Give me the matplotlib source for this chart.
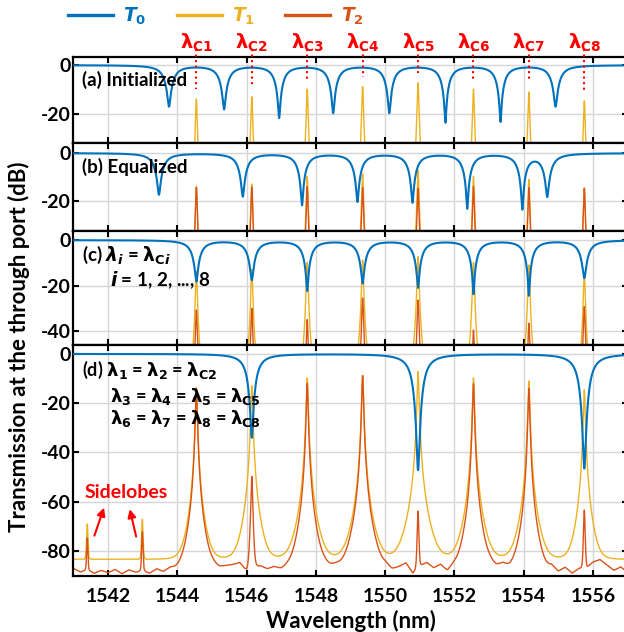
import numpy as np
import matplotlib
matplotlib.use('Agg')
import matplotlib.pyplot as plt
from matplotlib.lines import Line2D

plt.rcParams['font.family'] = ['Lato', 'DejaVu Sans']
plt.rcParams['font.weight'] = 'bold'
plt.rcParams['axes.labelweight'] = 'bold'
plt.rcParams['axes.unicode_minus'] = False
plt.rcParams['mathtext.fontset'] = 'dejavusans'

C0, C1, C2 = '#0072BD', '#EDB120', '#D95319'

# channel wavelengths (nm)
lam_c = [1544.55, 1546.15, 1547.75, 1549.35, 1550.95, 1552.55, 1554.15, 1555.75]

# T1 drop peaks (dB), same in all panels
t1_peak = [-13.9, -12.9, -9.8, -8.8, -7.2, -9.8, -11.0, -14.6]

# (a) initialized ring resonances
a_dip_wl = [1543.76, 1545.35, 1546.94, 1548.50, 1550.12, 1551.74, 1553.33, 1554.92]
a_dip_db = [-16.3, -17.3, -20.8, -18.8, -18.8, -22.7, -22.4, -16.3]

# (b) equalized
b_dip_wl = [1543.47, 1545.89, 1547.60, 1549.20, 1550.79, 1552.37, 1553.96, 1554.68]
b_dip_db = [-16.8, -17.5, -21.0, -19.6, -19.9, -22.4, -22.4, -17.2]
b_t2_peak = [-14.3, -14.3, -14.0, -14.4, -14.7, -14.0, -14.4, -14.7]

# (c) lambda_i = lambda_Ci
c_dip_db = [-17.6, -16.9, -21.6, -18.3, -20.2, -23.0, -23.7, -16.1]
c_t2_peak = [-30.8, -30.0, -35.0, -25.5, -26.4, -39.6, -36.6, -29.3]

# (d) grouped rings
d_dip_wl = [1546.15, 1550.95, 1555.75]
d_dip_db = [-33.2, -45.9, -45.3]
d_dip_rings = [2, 3, 3]
d_t2_peak = [-13.9, -49.7, -11.9, -8.8, -63.8, -12.1, -13.9, -63.4]
side_wl = [1541.40, 1542.99]
side_t1 = [-69.2, -67.2]
side_t2 = [-74.9, -72.3]
t1_floor = -83.3
floor_wl = np.round(np.arange(1541.0, 1557.01, 0.2), 2)
t2_floor = [-87.0, -88.5, -87.5, -89.0, -87.8, -88.8, -87.4, -89.2, -87.6, -88.6,
            -87.8, -89.0, -87.2, -88.4, -86.8, -87.5, -87.0, -87.0, -87.0, -87.0,
            -86.0, -86.8, -86.0, -85.5, -84.6, -88.0, -86.6, -86.0, -87.2, -86.4,
            -87.6, -86.8, -87.5, -87.0, -87.0, -86.5, -85.6, -86.4, -85.8, -86.6,
            -87.0, -87.0, -87.0, -86.2, -87.4, -86.0, -87.8, -86.4, -84.8, -89.0,
            -86.0, -84.6, -86.8, -85.4, -88.6, -86.2, -87.4, -87.0, -87.0, -86.0,
            -85.2, -86.4, -85.0, -86.8, -86.0, -87.0, -87.0, -86.4, -87.6, -86.0,
            -88.4, -86.6, -89.0, -87.0, -87.0, -84.4, -83.4, -85.6, -87.8, -86.4,
            -88.6]

wl = np.linspace(1541, 1557, 32001)


def ring_dip(center, depth, width=0.45, shoulder=0.5, broad=0.9):
    A = 1 - 10 ** (depth / 10)
    lin = 1 - A / (1 + (2 * (wl - center) / width) ** 2)
    return 10 * np.log10(lin) - shoulder / (1 + (2 * (wl - center) / broad) ** 2)


def through(centers, depths, **kw):
    out = np.zeros_like(wl)
    for c, d in zip(centers, depths):
        out += ring_dip(c, d, **kw)
    return out


def drop(centers, peaks, floor, width=0.047, order=2.6):
    p = 10 ** (floor / 10) * np.ones_like(wl)
    for c, pk in zip(centers, peaks):
        p += 10 ** ((pk - 10 * order * np.log10(1 + (2 * (wl - c) / width) ** 2)) / 10)
    return 10 * np.log10(p)


fig = plt.figure(figsize=(6.24, 6.32), dpi=100)
W, H = 624.0, 632.0
xl, xr = 73.4, 627.6
panels = [(57, 143, (-31.8, 3.3)), (143, 231, (-32.5, 4.2)),
          (231, 345, (-46.2, 4.0)), (345, 576, (-90.1, 3.6))]
axes = []
for top, bot, ylim in panels:
    ax = fig.add_axes([xl / W, 1 - bot / H, (xr - xl) / W, (bot - top) / H])
    ax.set_xlim(1541, 1557)
    ax.set_ylim(*ylim)
    ax.set_xticks(np.arange(1542, 1557, 2))
    ax.grid(True, color='#d6d6d6', lw=1.0)
    ax.set_axisbelow(True)
    ax.tick_params(direction='in', top=True, right=True, length=4, width=1.5,
                   labelsize=14, pad=2)
    ax.tick_params(axis='x', pad=9)
    for s in ax.spines.values():
        s.set_linewidth(1.6)
    axes.append(ax)
for ax in axes[:3]:
    ax.tick_params(labelbottom=False)
axes[0].set_yticks([0, -20])
axes[1].set_yticks([0, -20])
axes[2].set_yticks([0, -20, -40])
axes[3].set_yticks([0, -20, -40, -60, -80])

# (a)
ax = axes[0]
ax.plot(wl, drop(lam_c, t1_peak, t1_floor), color=C1, lw=1.0, zorder=2)
ax.plot(wl, through(a_dip_wl, a_dip_db), color=C0, lw=1.5, zorder=3)
for i, (c, pk) in enumerate(zip(lam_c, t1_peak)):
    ax.plot([c, c], [6.5, pk + 4], color='red', ls=':', lw=1.5, clip_on=False, zorder=4)
    ax.text(c, 1.17, r'$\boldsymbol{\lambda}_{\mathbf{C%d}}$' % (i + 1),
            transform=ax.get_xaxis_transform(), color='red', fontsize=14,
            ha='center', va='center')
ax.text(0.015, 0.73, '(a) Initialized', transform=ax.transAxes, fontsize=13.5,
        va='center')

# (b)
ax = axes[1]
ax.plot(wl, drop(lam_c, t1_peak, t1_floor), color=C1, lw=1.0, zorder=2)
ax.plot(wl, drop(lam_c, b_t2_peak, -87), color=C2, lw=1.0, zorder=2)
ax.plot(wl, through(b_dip_wl, b_dip_db), color=C0, lw=1.5, zorder=3)
ax.text(0.015, 0.73, '(b) Equalized', transform=ax.transAxes, fontsize=13.5,
        va='center')

# (c)
ax = axes[2]
ax.plot(wl, drop(lam_c, t1_peak, t1_floor), color=C1, lw=1.0, zorder=2)
ax.plot(wl, drop(lam_c, c_t2_peak, -87), color=C2, lw=1.0, zorder=2)
ax.plot(wl, through(lam_c, c_dip_db), color=C0, lw=1.5, zorder=3)
ax.text(0.015, 0.79, r'(c) $\boldsymbol{\lambda_i}$ = $\boldsymbol{\lambda}_{\mathbf{C}\boldsymbol{i}}$',
        transform=ax.transAxes, fontsize=13.5, va='center')
ax.text(0.066, 0.57, r'$\boldsymbol{i}$ = 1, 2, ..., 8', transform=ax.transAxes,
        fontsize=13.5, va='center')

# (d)
ax = axes[3]
t0d = np.zeros_like(wl)
for c, d, n in zip(d_dip_wl, d_dip_db, d_dip_rings):
    for k in range(n):
        t0d += ring_dip(c, d / n, width=0.4, shoulder=0.4)
f2 = np.interp(wl, floor_wl, t2_floor)
ax.plot(wl, drop(lam_c + side_wl, t1_peak + side_t1, t1_floor), color=C1, lw=1.0, zorder=2)
ax.plot(wl, drop(lam_c + side_wl, d_t2_peak + side_t2, f2, order=2.7, width=0.045),
        color=C2, lw=1.0, zorder=2)
ax.plot(wl, t0d, color=C0, lw=1.5, zorder=3)
ax.text(0.015, 0.892, r'(d) $\boldsymbol{\lambda}_{\mathbf{1}}$ = $\boldsymbol{\lambda}_{\mathbf{2}}$ = $\boldsymbol{\lambda}_{\mathbf{C2}}$',
        transform=ax.transAxes, fontsize=13, va='center')
ax.text(0.066, 0.779, r'$\boldsymbol{\lambda}_{\mathbf{3}}$ = $\boldsymbol{\lambda}_{\mathbf{4}}$ = $\boldsymbol{\lambda}_{\mathbf{5}}$ = $\boldsymbol{\lambda}_{\mathbf{C5}}$',
        transform=ax.transAxes, fontsize=13, va='center')
ax.text(0.066, 0.68, r'$\boldsymbol{\lambda}_{\mathbf{6}}$ = $\boldsymbol{\lambda}_{\mathbf{7}}$ = $\boldsymbol{\lambda}_{\mathbf{8}}$ = $\boldsymbol{\lambda}_{\mathbf{C8}}$',
        transform=ax.transAxes, fontsize=13, va='center')
ax.text(1542.53, -56.4, 'Sidelobes', color='red', fontsize=14, ha='center', va='center')
for tail, head in [((1541.58, -74.8), (1541.91, -61.3)), ((1542.83, -75.2), (1542.61, -61.9))]:
    ax.annotate('', xy=head, xytext=tail,
                arrowprops=dict(arrowstyle='-|>', color='red', lw=1.5, mutation_scale=12))
ax.set_xlabel('Wavelength (nm)', fontsize=16, labelpad=3)

fig.text(0.030, 0.452, 'Transmission at the through port (dB)', rotation=90,
         fontsize=16, ha='center', va='center')

handles = [Line2D([], [], color=C0, lw=2.4), Line2D([], [], color=C1, lw=2.4),
           Line2D([], [], color=C2, lw=2.4)]
labels = [r'$\boldsymbol{T}_{\mathbf{0}}$', r'$\boldsymbol{T}_{\mathbf{1}}$',
          r'$\boldsymbol{T}_{\mathbf{2}}$']
fig.legend(handles, labels, loc='center left', bbox_to_anchor=(51 / W, 1 - 16 / H),
           ncol=3, frameon=False, fontsize=13.5, handlelength=2.4, handletextpad=0.55,
           columnspacing=1.6, labelcolor='linecolor')

fig.savefig('out.png', dpi=100)
